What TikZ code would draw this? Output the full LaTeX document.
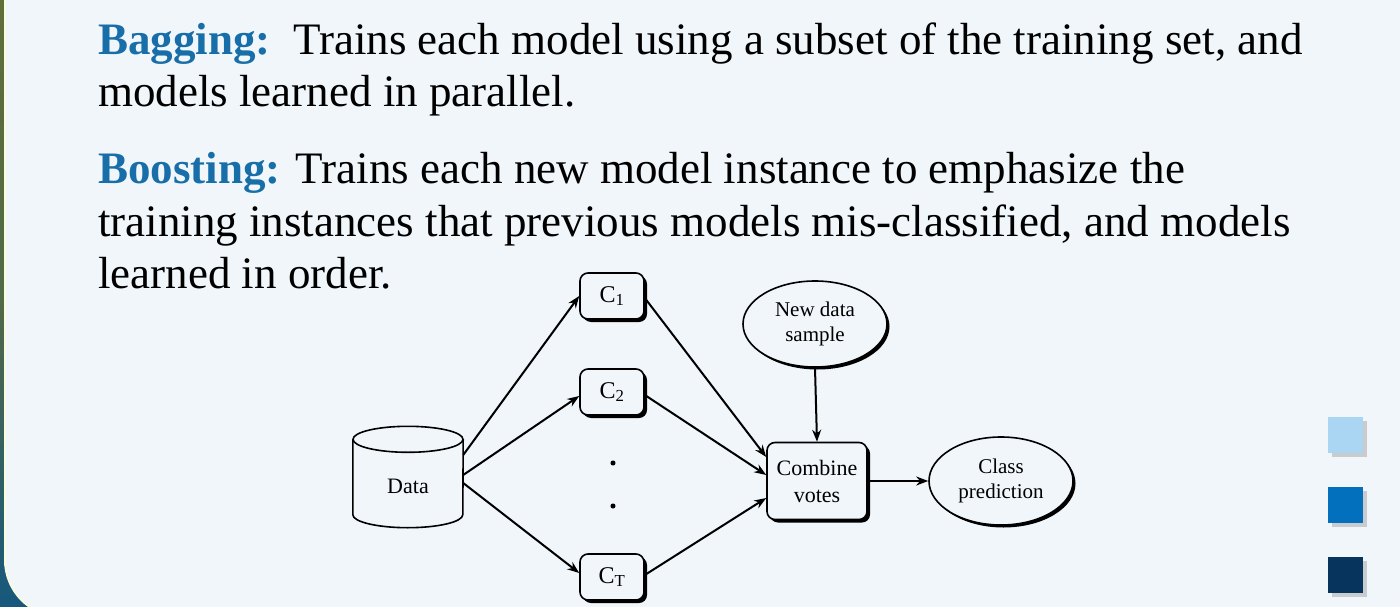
\documentclass[tikz,border=0pt]{standalone}
\usepackage{fontspec}
\setmainfont{Liberation Serif}
\usetikzlibrary{arrows.meta,shapes.geometric,shadows}

\definecolor{panelbg}{RGB}{240,246,250}
\definecolor{headblue}{RGB}{24,110,168}
\definecolor{framegreen}{RGB}{96,110,58}
\definecolor{framecorner}{RGB}{22,88,125}
\definecolor{rimyellow}{RGB}{250,252,222}
\definecolor{sqlight}{RGB}{170,213,243}
\definecolor{sqmid}{RGB}{2,112,188}
\definecolor{sqdark}{RGB}{6,52,92}

\begin{document}
\begin{tikzpicture}[
    x=1pt,y=-1pt,
    >={Stealth[length=12pt,width=9pt]},
    para/.style={anchor=base west,inner sep=0pt,font=\fontsize{45}{52}\selectfont},
    link/.style={->,line width=2pt},
    clf/.style={draw,line width=1.6pt,rounded corners=8pt,fill=panelbg,
        minimum width=64pt,minimum height=46pt,inner sep=0pt,
        font=\fontsize{24}{24}\selectfont,
        drop shadow={shadow xshift=3pt,shadow yshift=-3pt,opacity=1,fill=black}},
    blob/.style={draw,ellipse,line width=1.6pt,fill=panelbg,inner sep=0pt,
        minimum width=144pt,minimum height=86pt,align=center,
        font=\fontsize{21}{25}\selectfont,
        drop shadow={shadow xshift=2.5pt,shadow yshift=-2.5pt,opacity=1,fill=black}},
    swatch/.style={fill=#1,minimum width=35pt,minimum height=36pt,inner sep=0pt,
        drop shadow={shadow xshift=4pt,shadow yshift=-4pt,opacity=.35,fill=gray}},
]
\useasboundingbox (0,0) rectangle (1400,607);

% === Slide frame ===
\shade[top color=framegreen,bottom color=framecorner,middle color=framegreen!80!framecorner]
    (0,0) rectangle (120,607);
\fill[rimyellow] (4,-80) [rounded corners=58pt] -- (4,618) -- (1480,618)
    [sharp corners] -- (1480,-80) -- cycle;
\fill[panelbg] (6,-80) [rounded corners=57pt] -- (6,617) -- (1480,617)
    [sharp corners] -- (1480,-80) -- cycle;

% === Text ===
\node[para] (bag1) at (98,55) {{\bfseries\color{headblue}Bagging:}\ \ Trains each model using a subset of the training set, and};
\node[para] (bag2) at (98,107) {models learned in parallel.};
\node[para] (boo1) at (98,183) {{\bfseries\color{headblue}Boosting:} Trains each new model instance to emphasize the};
\node[para] (boo2) at (98,236) {training instances that previous models mis-classified, and models};
\node[para] (boo3) at (98,288) {learned in order.};

% === Ensemble diagram ===
\node[minimum width=110pt,minimum height=101pt,inner sep=0pt,
    font=\fontsize{22}{22}\selectfont,text depth=0pt] (data) at (408,477) {\raisebox{-16pt}{Data}};
\draw[line width=1.6pt] ([yshift=-13pt]data.north west) -- ([yshift=13pt]data.south west)
    arc[start angle=180,end angle=360,x radius=55pt,y radius=13pt]
    -- ([yshift=-13pt]data.north east);
\draw[line width=1.6pt] ([yshift=-13pt]data.north) ellipse[x radius=55pt,y radius=13pt];

\node[clf] (c1) at (612,296) {C\textsubscript{1}};
\node[clf] (c2) at (612,392) {C\textsubscript{2}};
\node[clf] (ct) at (612,577) {C\textsubscript{T}};
\node[circle,fill,inner sep=1.8pt] (dot1) at (613,463) {};
\node[circle,fill,inner sep=1.8pt] (dot2) at (613,506) {};

\node[clf,minimum width=100pt,minimum height=77pt,align=center,
    font=\fontsize{22}{27}\selectfont] (comb) at (817,481) {Combine\\votes};
\node[blob] (newdata) at (815,324) {New data\\sample};
\node[blob,minimum height=88pt] (cls) at (1001,481) {Class\\prediction};

\draw[link] ([yshift=22pt]data.east) -- (c1.west);
\draw[link] ([yshift=2pt]data.east) -- ([yshift=-4pt]c2.west);
\draw[link] ([yshift=-6pt]data.east) -- ([yshift=4pt]ct.west);
\draw[link] ([yshift=-2pt]c1.east) -- ([yshift=24pt]comb.west);
\draw[link] ([yshift=-3pt]c2.east) -- ([yshift=6pt]comb.west);
\draw[link] ([yshift=2pt]ct.east) -- ([yshift=-17pt]comb.west);
\draw[link] (newdata.south) -- (comb.north);
\draw[link] (comb.east) -- (cls.west);

% === Colour swatches ===
\node[swatch=sqlight] (sq1) at (1345,435) {};
\node[swatch=sqmid] (sq2) at (1345,505) {};
\node[swatch=sqdark] (sq3) at (1345,575) {};
\end{tikzpicture}
\end{document}
